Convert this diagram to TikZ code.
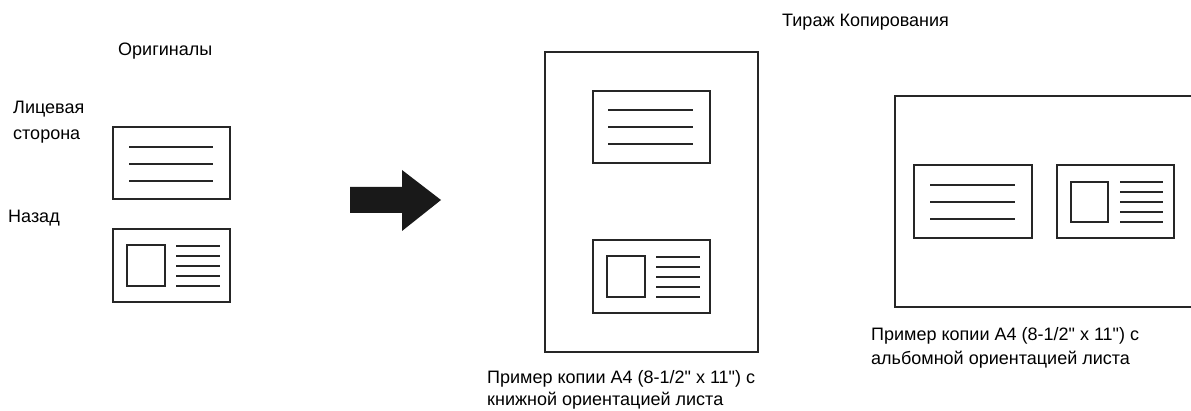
\documentclass[tikz,border=0pt]{standalone}
\usepackage{fontspec}
\setmainfont{Liberation Sans}[Ligatures=TeXOff]
\begin{document}
\begin{tikzpicture}[x=1pt,y=-1pt,
  lbl/.style={anchor=base west,inner sep=0pt,font=\fontsize{18}{23}\selectfont},
  page/.style={draw=black!85,line width=2pt},
  card/.style={draw=black!85,line width=2pt},
  ln/.style={draw=black!85,line width=1.8pt}]
\useasboundingbox (0,0) rectangle (1191,411);
\clip (0,0) rectangle (1191,411);
% texts
\node[lbl] (orig) at (118,56) {Оригиналы};
\node[lbl] (front1) at (13,114) {Лицевая};
\node[lbl] (front2) at (13,140) {сторона};
\node[lbl] (back) at (8,223) {Назад};
\node[lbl] (tir) at (782,27) {Тираж Копирования};
\node[lbl] (capA1) at (487,383) {Пример копии A4 (8-1/2" x 11") с};
\node[lbl] (capA2) at (487,406) {книжной ориентацией листа};
\node[lbl] (capB1) at (871,341) {Пример копии A4 (8-1/2" x 11") с};
\node[lbl] (capB2) at (871,364) {альбомной ориентацией листа};
% originals
\draw[card] (113,127) rectangle (230,199);
\foreach \y in {147,164,181} \draw[ln] (129,\y) -- (213,\y);
\draw[card] (113,229) rectangle (230,302);
\draw[card] (127,245) rectangle (165,286);
\foreach \y in {246,256,266,276,286} \draw[ln] (176,\y) -- (220,\y);
% arrow
\fill[black!90] (350,187) -- (402,187) -- (402,170) -- (441,200) -- (402,231) -- (402,213) -- (350,213) -- cycle;
% portrait page
\draw[page] (545,52) rectangle (758,352);
\draw[card] (593,91) rectangle (710,163);
\foreach \y in {110,127,144} \draw[ln] (608,\y) -- (693,\y);
\draw[card] (593,240) rectangle (710,313);
\draw[card] (607,256) rectangle (645,297);
\foreach \y in {257,267,277,287,297} \draw[ln] (656,\y) -- (700,\y);
% landscape page
\draw[page] (895,96) rectangle (1210,307);
\draw[card] (914,165) rectangle (1032,238);
\foreach \y in {185,202,219} \draw[ln] (930,\y) -- (1015,\y);
\draw[card] (1057,165) rectangle (1174,238);
\draw[card] (1071,182) rectangle (1108,222);
\foreach \y in {182,192,202,212,222} \draw[ln] (1120,\y) -- (1163,\y);
\end{tikzpicture}
\end{document}
